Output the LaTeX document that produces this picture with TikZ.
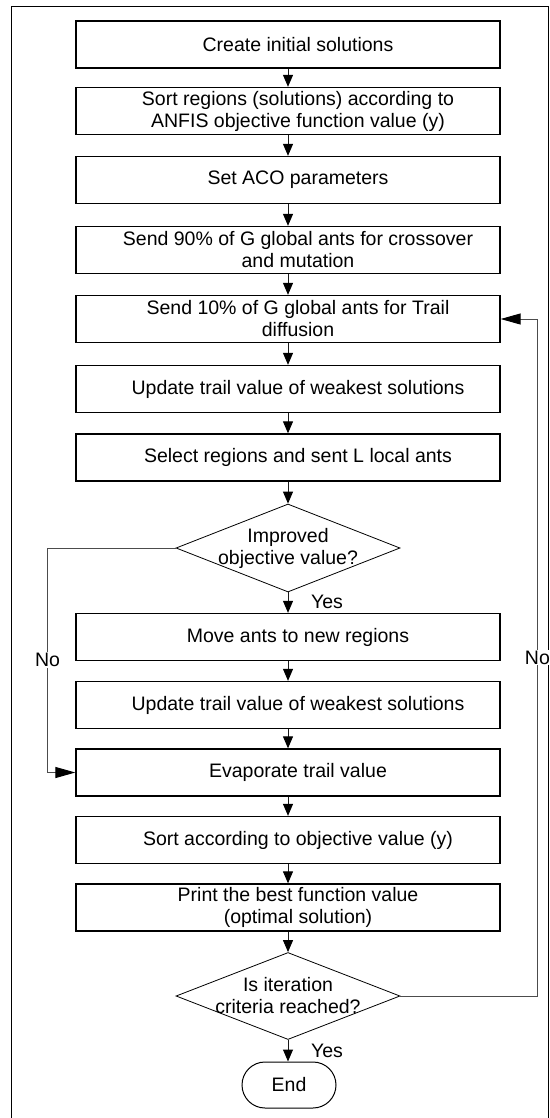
\documentclass[tikz,border=0pt]{standalone}
\usepackage{fontspec}
\setmainfont{Liberation Sans}
\usetikzlibrary{arrows.meta,shapes.geometric,shapes.misc}
\begin{document}
\begin{tikzpicture}[x=1bp,y=-1bp,
  font=\fontsize{19.5bp}{22bp}\selectfont,
  stepbox/.style={draw, line width=1.3bp, minimum width=424bp, minimum height=47bp, inner sep=0pt},
  boxtext/.style={align=center, xshift=10bp},
  decision/.style={draw, diamond, line width=0.8bp, minimum width=224bp, minimum height=88bp, inner sep=0pt},
  endbox/.style={draw, rounded rectangle, line width=1bp, minimum width=94bp, minimum height=46bp, inner sep=0pt},
  flow/.style={draw=black!90, line width=1bp, -{Triangle[length=12bp,width=10bp,color=black]}},
  loopback/.style={draw=black!70, line width=1bp, -{Triangle[length=20bp,width=11bp,color=black]}},
  tag/.style={fill=white, inner sep=1bp}]
\useasboundingbox (0,0) rectangle (550,1118);
% outer frame
\draw[line width=1.5bp] (11.7,1125) -- (11.7,6.7) -- (548.5,6.7) -- (548.5,1125);

\node[stepbox, label={[boxtext]center:Create initial solutions}] (b1) at (288,44.5) {};
\node[stepbox, label={[boxtext]center:Sort regions (solutions) according to\\ANFIS objective function value (y)}] (b2) at (288,111) {};
\node[stepbox, label={[boxtext]center:Set ACO parameters}] (b3) at (288,180) {};
\node[stepbox, label={[boxtext]center:Send 90\% of G global ants for crossover\\and mutation}] (b4) at (288,250) {};
\node[stepbox, label={[boxtext]center:Send 10\% of G global ants for Trail\\diffusion}] (b5) at (288,319) {};
\node[stepbox, label={[boxtext]center:Update trail value of weakest solutions}] (b6) at (288,389) {};
\node[stepbox, label={[boxtext]center:Select regions and sent L local ants}] (b7) at (288,457.5) {};
\node[decision, label={[align=center]center:Improved\\objective value?}] (d1) at (288,548) {};
\node[stepbox, label={[boxtext]center:Move ants to new regions}] (b8) at (288,637) {};
\node[stepbox, label={[boxtext]center:Update trail value of weakest solutions}] (b9) at (288,705) {};
\node[stepbox, label={[boxtext]center:Evaporate trail value}] (b10) at (288,772.5) {};
\node[stepbox, label={[boxtext]center:Sort according to objective value (y)}] (b11) at (288,840) {};
\node[stepbox, label={[boxtext]center:Print the best function value\\(optimal solution)}] (b12) at (288,907.5) {};
\node[decision, minimum height=87bp, label={[align=center]center:Is iteration\\criteria reached?}] (d2) at (288,996) {};
\node[endbox] (e) at (289,1085) {End};

\draw[flow] (b1) -- (b2);
\draw[flow] (b2) -- (b3);
\draw[flow] (b3) -- (b4);
\draw[flow] (b4) -- (b5);
\draw[flow] (b5) -- (b6);
\draw[flow] (b6) -- (b7);
\draw[flow] (b7) -- (d1);
\draw[flow] (d1) -- (b8);
\draw[flow] (b8) -- (b9);
\draw[flow] (b9) -- (b10);
\draw[flow] (b10) -- (b11);
\draw[flow] (b11) -- (b12);
\draw[flow] (b12) -- (d2);
\draw[flow] (d2.south) -- (e.north -| d2.south);

\node (yes1) at (327,602) {Yes};
\node (yes2) at (327,1051) {Yes};

\draw[loopback] (d1.west) -- ++(-128,0) |- node[tag, pos=0.25] (no1) {No} (b10.west);
\draw[loopback] (d2.east) -- ++(137,0) |- node[tag, pos=0.25] (no2) {No} (b5.east);
\end{tikzpicture}
\end{document}
